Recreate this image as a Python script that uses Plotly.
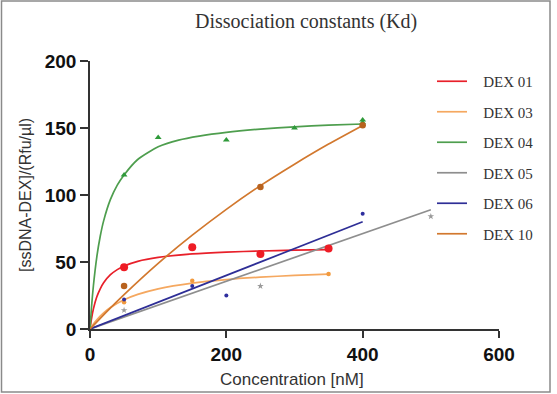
import plotly.graph_objects as go

# ---- data ----
series_names = ["DEX 01", "DEX 03", "DEX 04", "DEX 05", "DEX 06", "DEX 10"]

# measured points
dex01_x = [50, 150, 250, 350]
dex01_y = [46, 61, 56, 60]
dex03_x = [50, 150, 350]
dex03_y = [20, 36, 41]
dex04_x = [50, 100, 200, 300, 400, 400]
dex04_y = [115, 143, 141, 150, 156, 154]
dex05_x = [50, 250, 500]
dex05_y = [14, 32, 84]
dex06_x = [50, 150, 200, 400]
dex06_y = [22, 32, 25, 86]
dex10_x = [50, 250, 400]
dex10_y = [32, 106, 152]

# fitted curves
fit01_x = [0, 2, 5, 10, 15, 20, 30, 40, 50, 70, 100, 150, 200, 250, 300, 350]
fit01_y = [0, 7, 15, 24, 30, 34.5, 40.5, 44.3, 47, 50.5, 53.4, 56, 57.4, 58.2, 58.8, 59.2]
fit03_x = [0, 5, 10, 20, 30, 50, 70, 100, 150, 200, 250, 300, 350]
fit03_y = [0, 3.7, 6.9, 12, 16, 21.8, 25.8, 30, 34.3, 36.9, 38.7, 40, 41]
fit04_x = [0, 2, 5, 10, 15, 20, 30, 40, 50, 70, 100, 130, 160, 200, 250, 300, 350, 400]
fit04_y = [0, 14.7, 32.3, 53.9, 69.2, 80.7, 96.7, 107.4, 115, 126.5, 136, 141,
           144, 146.8, 149.2, 150.9, 152.1, 153]
fit05_x = [0, 500]
fit05_y = [0, 89]
fit06_x = [0, 400]
fit06_y = [0, 80]
fit10_x = [0, 25, 50, 100, 150, 200, 250, 300, 350, 400]
fit10_y = [0, 13.2, 25.7, 49, 70, 89.3, 107, 123, 138, 151.9]

x_ticks = [0, 200, 400, 600]
y_ticks = [0, 50, 100, 150, 200]

line_colors = ["#e8202a", "#f5a860", "#4e9e4e", "#8e8e8e", "#2e2e96", "#d2782e"]
marker_colors = ["#ee1c25", "#f29a3e", "#2f9a3a", "#9a9a9a", "#2e2e9e", "#b8621e"]
marker_symbols = ["circle", "circle", "triangle-up", "star", "circle", "circle"]
marker_sizes = [8, 4.5, 6, 5, 4, 6.5]

fits = [(fit01_x, fit01_y), (fit03_x, fit03_y), (fit04_x, fit04_y),
        (fit05_x, fit05_y), (fit06_x, fit06_y), (fit10_x, fit10_y)]
pts = [(dex01_x, dex01_y), (dex03_x, dex03_y), (dex04_x, dex04_y),
       (dex05_x, dex05_y), (dex06_x, dex06_y), (dex10_x, dex10_y)]

NB = "\u00a0"
fig = go.Figure()
for i, name in enumerate(series_names):
    fx, fy = fits[i]
    fig.add_trace(go.Scatter(
        x=fx, y=fy, mode="lines", name=NB * 3 + name, legendgroup=name,
        line=dict(color=line_colors[i], width=1.7, shape="spline", smoothing=0.6),
        hoverinfo="skip"))
for i, name in enumerate(series_names):
    px_, py_ = pts[i]
    fig.add_trace(go.Scatter(
        x=px_, y=py_, mode="markers", name=name, legendgroup=name, showlegend=False,
        marker=dict(color=marker_colors[i], symbol=marker_symbols[i], size=marker_sizes[i],
                    line=dict(width=0))))

L, R, T, B = 90, 58, 61, 65
W, H = 557, 394
pw, ph = W - L - R, H - T - B

def px2paper_x(p):
    return (p - L) / pw

def px2paper_y(p):
    return (H - B - p) / ph

tickfont = dict(family="Liberation Sans", size=19, color="#111", weight="bold")

fig.update_layout(
    width=W, height=H,
    margin=dict(l=L, r=R, t=T, b=B, pad=0),
    paper_bgcolor="white", plot_bgcolor="white",
    showlegend=True,
    legend=dict(x=px2paper_x(432), y=px2paper_y(65), xanchor="left", yanchor="top",
                font=dict(family="Liberation Serif", size=15, color="#333"),
                traceorder="grouped", tracegroupgap=8, itemwidth=30,
                bgcolor="rgba(0,0,0,0)"),
    xaxis=dict(range=[0, 600], tickvals=x_ticks, showgrid=False, zeroline=False,
               showline=True, linecolor="#333", linewidth=1.5,
               ticks="outside", ticklen=7, tickwidth=1.5, tickcolor="#333",
               tickfont=tickfont),
    yaxis=dict(range=[0, 200], tickvals=y_ticks, showgrid=False, zeroline=False,
               showline=True, linecolor="#333", linewidth=1.5,
               ticks="outside", ticklen=8, tickwidth=1.5, tickcolor="#333",
               tickfont=tickfont),
    annotations=[
        dict(text="Dissociation constants (Kd)", xref="paper", yref="paper",
             x=px2paper_x(306), y=px2paper_y(21), xanchor="center", yanchor="middle",
             showarrow=False, font=dict(family="Liberation Serif", size=20, color="#333")),
        dict(text="Concentration [nM]", xref="paper", yref="paper",
             x=px2paper_x(292), y=px2paper_y(379), xanchor="center", yanchor="middle",
             showarrow=False, font=dict(family="Liberation Sans", size=17, color="#333")),
        dict(text="[ssDNA-DEX]/(Rfu/µl)", xref="paper", yref="paper",
             x=px2paper_x(25), y=px2paper_y(195), xanchor="center", yanchor="middle",
             textangle=-90, showarrow=False,
             font=dict(family="Liberation Sans", size=16, color="#333")),
    ],
    shapes=[dict(type="rect", xref="paper", yref="paper",
                 x0=px2paper_x(1.5), x1=px2paper_x(550), y0=px2paper_y(392), y1=px2paper_y(1),
                 line=dict(color="#8a8a8a", width=1.5), fillcolor="rgba(0,0,0,0)", layer="below")],
)

fig.write_html("out.html")
